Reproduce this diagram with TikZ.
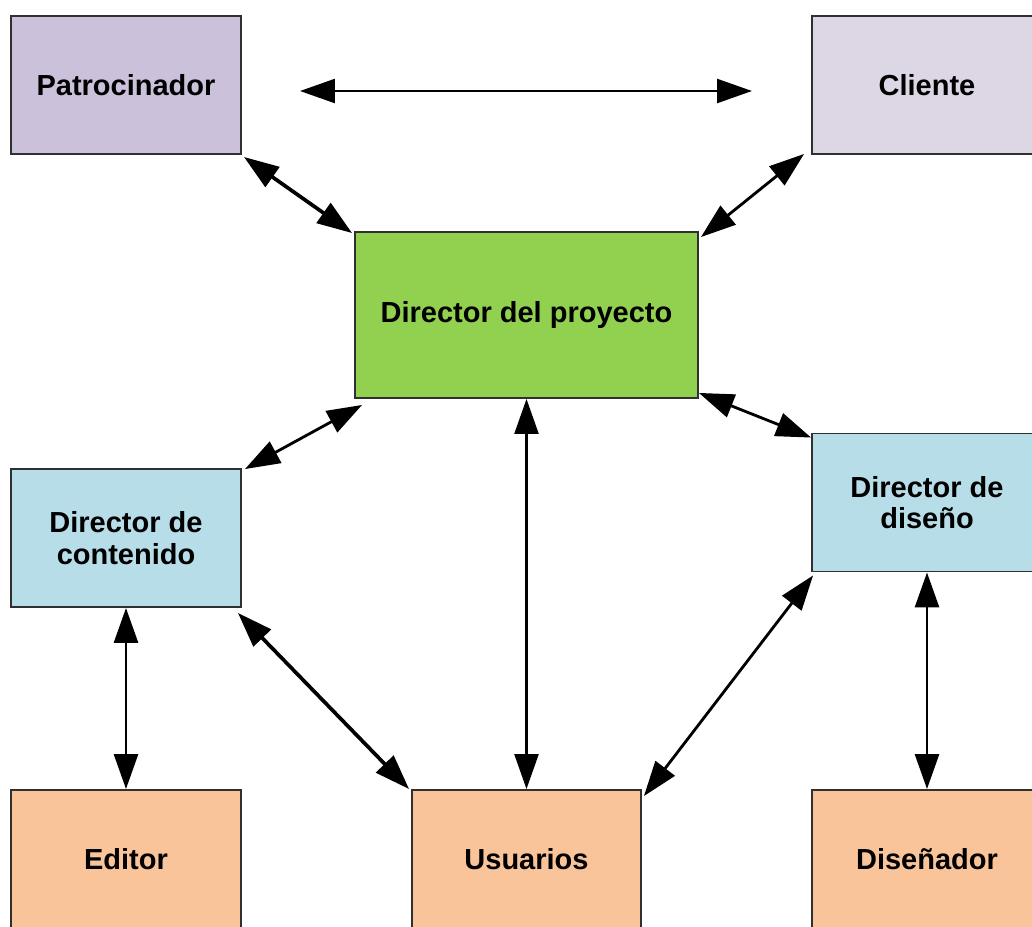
\documentclass[tikz,border=0pt]{standalone}
\usepackage{fontspec}
\setmainfont{Liberation Sans}
\usetikzlibrary{arrows.meta,calc}

\definecolor{sponsorfill}{HTML}{CCC1DA}
\definecolor{clientfill}{HTML}{DDD7E5}
\definecolor{leadfill}{HTML}{92D050}
\definecolor{directorfill}{HTML}{B7DDE8}
\definecolor{staffill}{HTML}{F9C49A}
\definecolor{boxline}{HTML}{303030}

\begin{document}
\begin{tikzpicture}[x=0.02cm,y=-0.02cm,
  role/.style={draw=boxline,line width=1.1pt,rectangle,inner sep=0pt,
    align=center,font=\fontsize{16.5}{17.8}\selectfont\bfseries},
  smallbox/.style={role,minimum width=4.6cm,minimum height=2.76cm},
  link/.style={line width=1.6pt,
    {Triangle[length=0.7cm,width=0.48cm]}-{Triangle[length=0.7cm,width=0.48cm]}},
  thicklink/.style={link,line width=2.1pt}]

  \clip (0,0) rectangle (1032,927);
  \fill[white] (0,0) rectangle (1032,927);

  % top row
  \node[smallbox,fill=sponsorfill] (pat) at (126,85) {Patrocinador};
  \node[smallbox,fill=clientfill]  (cli) at (927,85) {Cliente};

  % project lead
  \node[role,fill=leadfill,minimum width=6.86cm,minimum height=3.32cm]
        (dir) at (526.5,315) {Director del proyecto};

  % area directors
  \node[smallbox,fill=directorfill] (cont) at (126,538)   {Director de\\contenido};
  \node[smallbox,fill=directorfill] (dis)  at (927,502.5) {Director de\\diseño};

  % bottom row
  \node[smallbox,fill=staffill] (edit) at (126,859)   {Editor};
  \node[smallbox,fill=staffill,minimum width=4.58cm] (usu) at (526.5,859) {Usuarios};
  \node[smallbox,fill=staffill] (dsn)  at (927,859)   {Diseñador};

  % free arrow between sponsor and client
  \coordinate (tl) at (300,91);
  \coordinate (tr) at (752,91);
  \draw[link,line width=1.4pt] (tl) -- (tr);

  % connectors
  \draw[thicklink] ($(pat.south east)+(2,2)$) -- ($(dir.north west)+(-2,2)$);
  \draw[link] ($(cli.south west)+(-7,-1)$) -- ($(dir.north east)+(2,6)$);
  \draw[link] ($(dir.south west)+(8,6)$) -- ($(cont.north east)+(3,1)$);
  \draw[link,line width=1.4pt] (dir.south) -- (usu.north);
  \draw[link] ($(dir.south east)+(0,-6)$) -- ($(dis.north west)+(0,5)$);
  \draw[link] (cont.south) -- (edit.north);
  \draw[thicklink] ($(cont.south east)+(-4,5)$) -- ($(usu.north west)+(-2,0)$);
  \draw[link] ($(dis.south west)+(2,3)$) -- ($(usu.north east)+(2,7)$);
  \draw[link] (dis.south) -- (dsn.north);
\end{tikzpicture}
\end{document}
